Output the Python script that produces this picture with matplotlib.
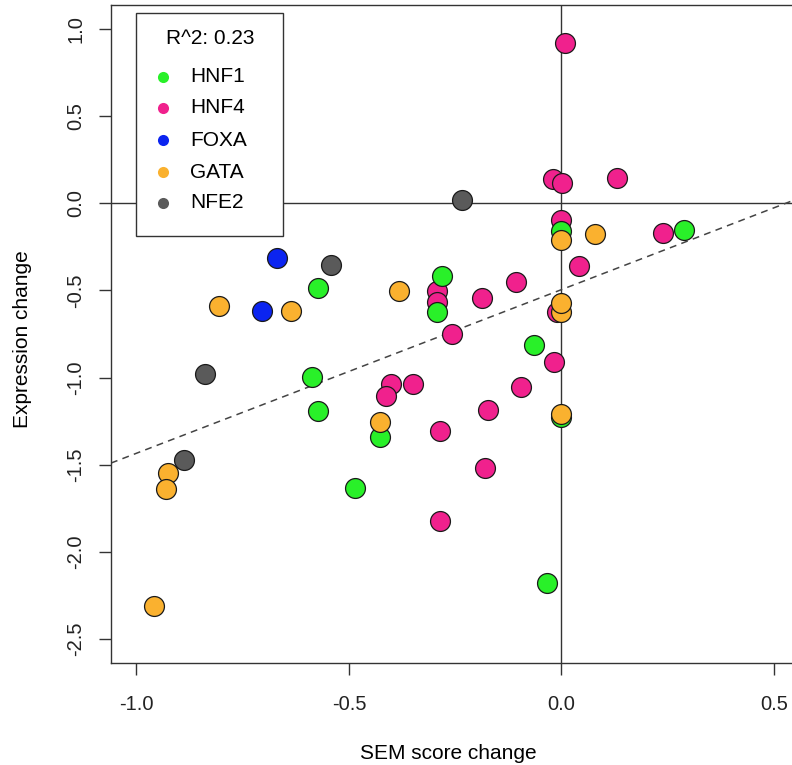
import matplotlib
matplotlib.use("Agg")
import matplotlib.pyplot as plt
from matplotlib.patches import Rectangle

plt.rcParams["font.family"] = ["Liberation Sans", "DejaVu Sans"]

# ---------------------------------------------------------------------------
# SEM score change (x) vs expression change (y), grouped by motif family
# ---------------------------------------------------------------------------
hnf1_x = [0.289, 0.0, -0.282, -0.572, -0.292, -0.064, -0.587, -0.572,
          -0.428, -0.486, -0.035, 0.0]
hnf1_y = [-0.151, -0.157, -0.415, -0.486, -0.622, -0.813, -0.995, -1.19,
          -1.343, -1.635, -2.178, -1.225]

hnf4_x = [0.008, -0.02, 0.001, 0.13, 0.0, 0.238, 0.042, -0.107, -0.292,
          -0.292, -0.188, -0.257, -0.01, -0.018, -0.401, -0.349, -0.412,
          -0.095, -0.173, -0.286, -0.18, -0.285]
hnf4_y = [0.921, 0.143, 0.118, 0.147, -0.094, -0.172, -0.361, -0.453, -0.505,
          -0.565, -0.543, -0.75, -0.625, -0.912, -1.04, -1.04, -1.104,
          -1.056, -1.186, -1.305, -1.519, -1.825]

foxa_x = [-0.669, -0.704]
foxa_y = [-0.314, -0.62]

gata_x = [0.079, 0.0, -0.382, -0.805, -0.636, 0.0, 0.0, 0.0, -0.428,
          -0.925, -0.93, -0.959]
gata_y = [-0.178, -0.209, -0.503, -0.591, -0.616, -0.622, -0.574, -1.209,
          -1.253, -1.551, -1.643, -2.312]

nfe2_x = [-0.235, -0.542, -0.838, -0.889]
nfe2_y = [0.021, -0.352, -0.978, -1.473]

families = ["HNF1", "HNF4", "FOXA", "GATA", "NFE2"]
colors = {"HNF1": "#29F029", "HNF4": "#F0218D", "FOXA": "#0B24F0",
          "GATA": "#FAB12F", "NFE2": "#5A5A5A"}
points = {"HNF1": (hnf1_x, hnf1_y), "HNF4": (hnf4_x, hnf4_y),
          "FOXA": (foxa_x, foxa_y), "GATA": (gata_x, gata_y),
          "NFE2": (nfe2_x, nfe2_y)}
draw_order = ["NFE2", "HNF4", "FOXA", "HNF1", "GATA"]

# linear fit
r2 = 0.23
slope = 0.94
intercept = -0.495

xticks = [-1.0, -0.5, 0.0, 0.5]
yticks = [1.0, 0.5, 0.0, -0.5, -1.0, -1.5, -2.0, -2.5]

# ---------------------------------------------------------------------------
# Plot
# ---------------------------------------------------------------------------
fig = plt.figure(figsize=(7.92, 7.65), dpi=100)
ax = fig.add_axes([0.14015, 0.13333, 0.86932, 0.86013])
ax.set_xlim(-1.06, 0.56)
ax.set_ylim(-2.64, 1.14)

axis_col = "#333333"
ax.axhline(0, color=axis_col, lw=1.0, zorder=1)
ax.axvline(0, color=axis_col, lw=1.0, zorder=1)
ax.axline((0, intercept), slope=slope, color="#444444", lw=1.1,
          ls=(0, (4.5, 3.5)), zorder=1)

for fam in draw_order:
    xs, ys = points[fam]
    ax.scatter(xs, ys, s=205, c=colors[fam], edgecolors="#1a1a1a",
               linewidths=0.9, zorder=3)

# legend box, R-style
lx0, lx1 = 0.0363, 0.2498
ly0, ly1 = 0.6489, 0.9878
ax.add_patch(Rectangle((lx0, ly0), lx1 - lx0, ly1 - ly0,
                       transform=ax.transAxes, facecolor="white",
                       edgecolor=axis_col, lw=1.0, zorder=4))
ax.text(0.1438, 0.9498, f"R^2: {r2}", transform=ax.transAxes,
        ha="center", va="center", fontsize=15, zorder=5)
entry_y = [0.8906, 0.8435, 0.7948, 0.7462, 0.6991]
for fam, yy in zip(families, entry_y):
    ax.plot([0.0755], [yy], "o", ms=8, color=colors[fam], mec="none",
            transform=ax.transAxes, zorder=5)
    ax.text(0.1147, yy, fam, transform=ax.transAxes, ha="left",
            va="center", fontsize=15, zorder=5)

ax.set_xticks(xticks)
ax.set_xticklabels([f"{t:.1f}" for t in xticks])
ax.set_yticks(yticks)
ax.set_yticklabels([f"{t:.1f}" for t in yticks], rotation=90, va="center")
ax.tick_params(direction="out", length=8.5, width=1.0, color=axis_col,
               labelsize=14.5, labelcolor="#222222")
ax.tick_params(axis="x", pad=14.5)
ax.tick_params(axis="y", pad=10)

for side in ["left", "bottom", "top", "right"]:
    ax.spines[side].set_color(axis_col)
    ax.spines[side].set_linewidth(1.0)

ax.set_xlabel("SEM score change", fontsize=15)
ax.set_ylabel("Expression change", fontsize=15)
ax.xaxis.set_label_coords(0.4903, -0.1368)
ax.yaxis.set_label_coords(-0.1290, 0.4916)
ax.xaxis.label.set_va("center")
ax.yaxis.label.set_va("center")

fig.savefig("out.png", dpi=100)
